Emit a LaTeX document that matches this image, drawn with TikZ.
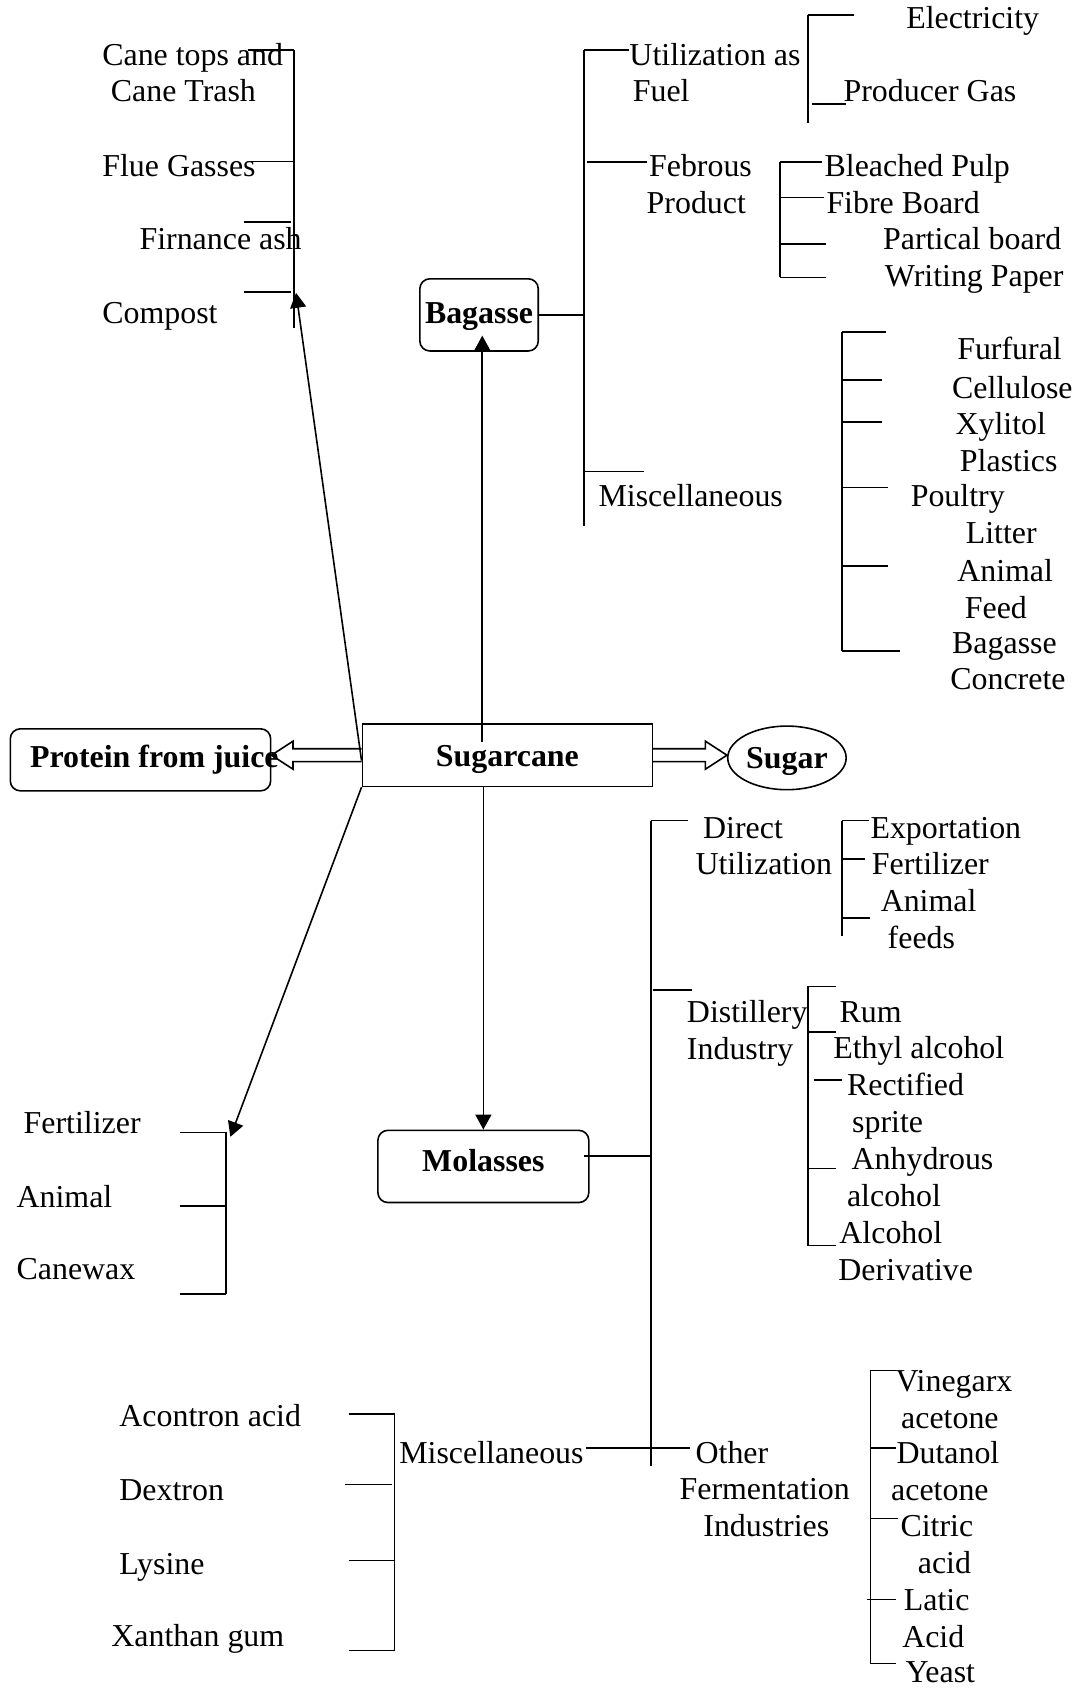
\documentclass[tikz,border=0pt]{standalone}
\usepackage{fontspec}
\setmainfont{Liberation Serif}
\usetikzlibrary{arrows.meta,shapes.geometric,calc}

\begin{document}
\begin{tikzpicture}
  [x=0.54pt,y=-0.54pt,line width=0.8pt,
   every node/.style={inner sep=0pt,align=left,font=\fontsize{16}{18.47}\selectfont},
   item/.style={anchor=base west},
   box/.style={draw,rounded corners=5pt,align=center,font=\fontsize{16}{18.47}\selectfont\bfseries},
   arr/.style={-{Triangle[length=7.5pt,width=8pt]}}]
  \useasboundingbox (0,0) rectangle (1003,1568);

  % main products
  \node[draw,minimum width=145.5pt,minimum height=31.3pt,text height=11pt,text depth=0pt,font=\fontsize{16}{18.47}\selectfont\bfseries] (sugarcane) at (471.3,701.5) {Sugarcane};
  \node[box,minimum width=59.4pt,minimum height=36.2pt,text height=10.6pt,text depth=2.2pt] (bagasse) at (445,292.5) {Bagasse};
  \node[box,minimum width=105.8pt,minimum height=36.2pt,text height=10.9pt,text depth=6.1pt] (molasses) at (449,1083.5) {Molasses};
  \node[box,minimum width=130.6pt,minimum height=31.1pt,inner xsep=9.9pt] (protein) at (130.5,705.8) {\makebox[110.8pt][l]{Protein from juice}};
  \node[draw,ellipse,minimum width=59.4pt,minimum height=31.9pt,text height=11pt,text depth=0pt,font=\fontsize{16}{18.47}\selectfont\bfseries] (sugar) at (731,704) {Sugar};

  % top left (base of a node is its last line)
  \node[item] (canetops) at (94.3,94.6) {Cane tops and\\\hspace*{4.3pt}Cane Trash};
  \node[item] (flue) at (94.3,164) {Flue Gasses};
  \node[item] (ash) at (128.9,232.2) {Firnance ash};
  \node[item] (compost) at (94.3,300.3) {Compost};
  \draw (273,46.4) -- (273,305);
  \foreach \y/\a/\b in {46.4/230/273,150/230/273,206/226.4/270,271.5/226.4/270}
    \draw (\a,\y) -- (\b,\y);
  \coordinate (tltip) at (275,272);

  % bagasse
  \coordinate (bgtop) at (542.4,46.4);
  \draw (bgtop) -- (542.4,489);
  \foreach \y/\a/\b in {46.4/542.4/584,150.7/545.6/600.6,438/542.4/598.4}
    \draw (\a,\y) -- (\b,\y);
  \node[item] (fuel) at (584,94.6) {Utilization as\\\hspace*{1.7pt}Fuel};
  \node[item] (febrous) at (600,198.3) {\hspace*{1.2pt}Febrous\\Product};
  \node[item] (miscb) at (555.3,470.5) {Miscellaneous};

  \draw (750.3,13.9) -- (750.3,113.9);
  \foreach \y/\a/\b in {13.9/750.3/793.5,96.6/754/786.1}
    \draw (\a,\y) -- (\b,\y);
  \node[item] (electricity) at (841.1,26.3) {Electricity};
  \node[item] (gas) at (782.9,94.4) {Producer Gas};

  \draw (724.4,150.7) -- (724.4,257.6);
  \foreach \y/\b in {150.7/763.7,183.6/765.3,226.6/767,257.6/767}
    \draw (724.4,\y) -- (\b,\y);
  \node[item] (pulp) at (765.3,164.1) {Bleached Pulp};
  \node[item] (fibre) at (767,198.1) {Fibre Board};
  \node[item] (partical) at (819.7,232.2) {Partical board};
  \node[item] (paper) at (821.3,266.2) {Writing Paper};

  \draw (782.2,308.6) -- (782.2,604.6);
  \foreach \y/\b in {308.6/822.8,352.9/819.7,391.9/819.7,452.9/825.1,525.6/825.1,604.6/835.7}
    \draw (782.2,\y) -- (\b,\y);
  \node[item] (furfural) at (888.5,334.3) {Furfural};
  \node[item] (cellulose) at (883.7,369.9) {Cellulose};
  \node[item] (xylitol) at (886.9,404) {Xylitol};
  \node[item] (plastics) at (891,438) {Plastics};
  \node[item] (poultry) at (845.3,504.7) {Poultry\\\hspace*{27.6pt}Litter};
  \node[item] (feed) at (888.5,574.4) {Animal\\\hspace*{3.8pt}Feed};
  \node[item] (concrete) at (882.1,640.9) {\hspace*{0.9pt}Bagasse\\Concrete};

  % molasses
  \coordinate (mltop) at (604.5,762.2);
  \draw (mltop) -- (604.5,1362.1);
  \foreach \y/\a/\b in {762.2/604.5/639,919.4/606.4/643.1}
    \draw (\a,\y) -- (\b,\y);
  \node[item] (direct) at (645.4,812.7) {\hspace*{3.8pt}Direct\\Utilization};
  \node[item] (distillery) at (637.4,983.9) {Distillery\\Industry};
  \node[item] (other) at (630.6,1427.4) {\hspace*{8pt}Other\\Fermentation\\\hspace*{11.9pt}Industries};

  \draw (782,762.2) -- (782,869.9);
  \foreach \y/\b in {762.2/807,798/803.7,852.8/807.9}
    \draw (782,\y) -- (\b,\y);
  \node[item] (exportation) at (807.9,778.5) {Exportation};
  \node[item] (fertilizer) at (809.2,812.6) {Fertilizer};
  \node[item] (animalfeeds) at (817.4,880.9) {Animal\\\hspace*{3.5pt}feeds};

  \draw (750.3,916.3) -- (750.3,1157.1);
  \foreach \y/\a/\b in {916.3/750.3/776.5,958.7/750.3/776.5,1003/755.8/782.2,1085.6/750.3/776.5,1157.1/750.3/776.5}
    \draw (\a,\y) -- (\b,\y);
  \node[item] (rum) at (779.1,949.7) {Rum};
  \node[item] (ethyl) at (773.3,982.9) {Ethyl alcohol};
  \node[item] (rectified) at (786.1,1052) {Rectified\\\hspace*{2.6pt}sprite};
  \node[item] (anhydrous) at (786.1,1120.7) {\hspace*{2.3pt}Anhydrous\\alcohol};
  \node[item] (derivative) at (778.1,1189.5) {\hspace*{0.5pt}Alcohol\\Derivative};

  \draw (808.6,1273.2) -- (808.6,1545.4);
  \foreach \y/\a/\b in {1273.2/808.6/832.7,1345/808.6/832.7,1410.7/808.6/834.3,1485.9/805/832.7,1545.4/808.6/832.7}
    \draw (\a,\y) -- (\b,\y);
  \node[item] (vinegar) at (831.2,1326.6) {Vinegarx\\\hspace*{2.8pt}acetone};
  \node[item] (dutanol) at (827.1,1394.1) {\hspace*{2.7pt}Dutanol\\acetone};
  \node[item] (citric) at (835.8,1461.3) {Citric\\\hspace*{8.7pt}acid};
  \node[item] (latic) at (837.4,1530) {\hspace*{0.8pt}Latic\\Acid};
  \node[item] (yeast) at (840.5,1563.3) {Yeast};

  % bottom left
  \draw (210,1051.9) -- (210,1202);
  \foreach \y in {1051.9,1120,1202}
    \draw (167.1,\y) -- (210,\y);
  \coordinate (bltip) at (214,1056);
  \node[item] (fertilizer2) at (21.3,1052.5) {Fertilizer};
  \node[item] (animal2) at (14.7,1121.5) {Animal};
  \node[item] (canewax) at (14.7,1188.7) {Canewax};

  \draw (366.5,1313.5) -- (366.5,1533);
  \foreach \y/\a/\b in {1313.5/323.9/366.5,1379.1/320.6/364,1449.7/323.9/366.5,1533/323.9/366.5}
    \draw (\a,\y) -- (\b,\y);
  \node[item] (acontron) at (110.2,1324.9) {Acontron acid};
  \node[item] (dextron) at (110.2,1393.6) {Dextron};
  \node[item] (lysine) at (110.2,1462.7) {Lysine};
  \node[item] (xanthan) at (102.8,1529.8) {Xanthan gum};
  \node[item] (miscm) at (370.2,1359) {Miscellaneous};
  \coordinate (othertick) at (641.4,1345);

  % links
  \draw[arr] ($(bagasse.south |- sugarcane.north)+(3,17)$) -- ($(bagasse.south)+(3,-15)$);
  \draw[arr] (molasses.north |- sugarcane.south) -- (molasses.north);
  \draw[arr] ($(sugarcane.west)+(0,5)$) -- (tltip);
  \draw[arr] (sugarcane.south west) -- (bltip);
  \draw (bagasse.east) -- (bagasse.east -| bgtop);
  \draw ($(molasses.east)+(-5,-9.5)$) -- ($(molasses.east -| mltop)+(1,-9.5)$);
  \draw ($(miscm.base east)+(1.4,-14)$) -- (othertick);

  \draw ($(sugarcane.west)+(0,-6)$) -- ($(protein.east |- sugarcane.west)+(20,-6)$) -- ++(0,-7)
    -- (protein.east |- sugarcane.west) -- ++(20,13) -- ++(0,-7) -- ($(sugarcane.west)+(0,6)$);
  \draw ($(sugarcane.east)+(0,-6)$) -- ($(sugar.west |- sugarcane.east)+(-20,-6)$) -- ++(0,-7)
    -- (sugar.west |- sugarcane.east) -- ++(-20,13) -- ++(0,-7) -- ($(sugarcane.east)+(0,6)$);
\end{tikzpicture}
\end{document}
